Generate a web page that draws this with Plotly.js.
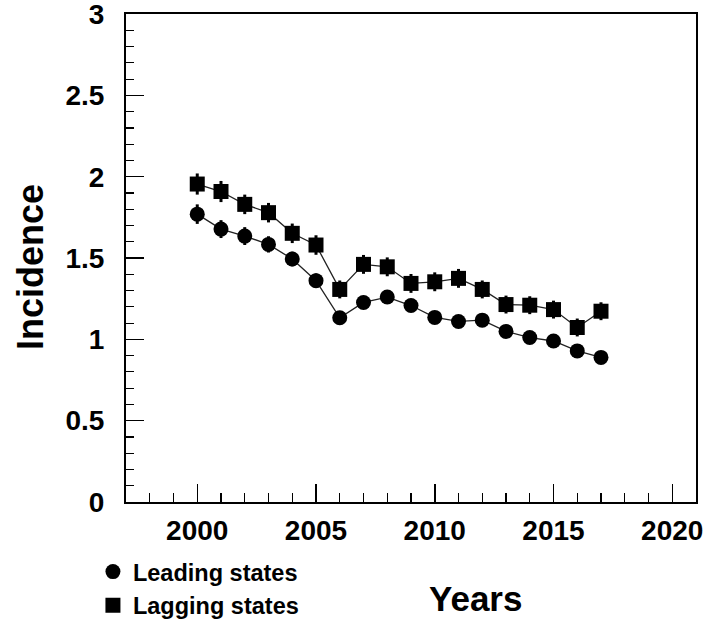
<!DOCTYPE html>
<html>
<head>
<meta charset="utf-8">
<script src="https://cdn.plot.ly/plotly-3.0.1.min.js"></script>
<style>html,body{margin:0;padding:0;background:#fff;}#chart{width:709px;height:625px;}</style>
</head>
<body>
<div id="chart"></div>
<script>
var years = [2000,2001,2002,2003,2004,2005,2006,2007,2008,2009,2010,2011,2012,2013,2014,2015,2016,2017];
var leading = [1.770,1.678,1.635,1.584,1.494,1.361,1.133,1.227,1.260,1.208,1.135,1.110,1.118,1.049,1.011,0.990,0.929,0.889];
var leadingErr = [0.060,0.055,0.055,0.050,0.045,0.045,0.040,0.040,0.040,0.035,0.035,0.035,0.035,0.035,0.035,0.030,0.030,0.030];
var lagging = [1.955,1.909,1.830,1.779,1.652,1.580,1.307,1.461,1.446,1.344,1.354,1.375,1.307,1.214,1.210,1.183,1.073,1.173];
var laggingErr = [0.065,0.065,0.060,0.060,0.060,0.060,0.055,0.058,0.058,0.058,0.058,0.058,0.055,0.055,0.055,0.055,0.055,0.055];
var seriesNames = ["Leading states","Lagging states"];
var xTickVals = [2000,2005,2010,2015,2020];
var xTickText = ["2000","2005","2010","2015","2020"];
var yTickVals = [0,0.5,1,1.5,2,2.5,3];
var yTickText = ["0","0.5","1","1.5","2","2.5","3"];
var xTitle = "Years";
var yTitle = "Incidence";

var FONT = "Liberation Sans, Arial, Helvetica, sans-serif";

function lineTrace(y, group) {
  return {x: years, y: y, type: "scatter", mode: "lines", showlegend: false, hoverinfo: "skip",
          legendgroup: group, line: {color: "#222", width: 1.3}};
}
function markTrace(y, err, name, symbol, group) {
  return {x: years, y: y, name: name, type: "scatter", mode: "markers", legendgroup: group,
          marker: {symbol: symbol, size: 15, color: "#000"},
          error_y: {type: "data", array: err, visible: true, color: "#000", thickness: 3, width: 0}};
}

var traces = [
  lineTrace(leading, "a"),
  lineTrace(lagging, "b"),
  markTrace(leading, leadingErr, seriesNames[0], "circle", "a"),
  markTrace(lagging, laggingErr, seriesNames[1], "square", "b")
];

var axisCommon = {
  showgrid: false, zeroline: false,
  showline: true, linecolor: "#000", linewidth: 2, mirror: true,
  ticks: "inside", tickcolor: "#000", tickwidth: 1.5, ticklen: 18,
  ticklabeloverflow: "allow",
  tickfont: {family: FONT, size: 28, color: "#000", weight: "bold"}
};

var layout = {
  width: 709, height: 625,
  margin: {l: 126, r: 13, t: 14, b: 123, autoexpand: false},
  paper_bgcolor: "#fff", plot_bgcolor: "#fff",
  showlegend: true,
  legend: {
    x: -0.058, y: -0.098, xanchor: "left", yanchor: "top",
    bgcolor: "rgba(0,0,0,0)", borderwidth: 0,
    font: {family: FONT, size: 23.5, color: "#000", weight: "bold"},
    itemsizing: "trace", tracegroupgap: 2, traceorder: "normal"
  },
  xaxis: Object.assign({}, axisCommon, {
    range: [1997, 2021], tickmode: "array", tickvals: xTickVals, ticktext: xTickText,
    ticklabelstandoff: 2,
    minor: {dtick: 1, tick0: 2000, ticks: "inside", ticklen: 9, tickcolor: "#000", tickwidth: 1.2, showgrid: false}
  }),
  yaxis: Object.assign({}, axisCommon, {
    range: [0, 3.0005], tickmode: "array", tickvals: yTickVals, ticktext: yTickText,
    ticklabelstandoff: 14,
    minor: {dtick: 0.1, tick0: 0, ticks: "inside", ticklen: 8, tickcolor: "#000", tickwidth: 1.2, showgrid: false}
  }),
  annotations: [
    {
      text: xTitle, xref: "paper", yref: "paper",
      x: (475 - 126) / 570, y: -(598 - 502) / 488, xanchor: "center", yanchor: "middle",
      showarrow: false,
      font: {family: FONT, size: 35, color: "#000", weight: "bold"}
    },
    {
      text: yTitle, xref: "paper", yref: "paper", textangle: -90,
      x: (30 - 126) / 570, y: (502 - 267) / 488, xanchor: "center", yanchor: "middle",
      showarrow: false,
      font: {family: FONT, size: 36, color: "#000", weight: "bold"}
    }
  ]
};

Plotly.newPlot("chart", traces, layout, {displayModeBar: false, staticPlot: true});
</script>
</body>
</html>
